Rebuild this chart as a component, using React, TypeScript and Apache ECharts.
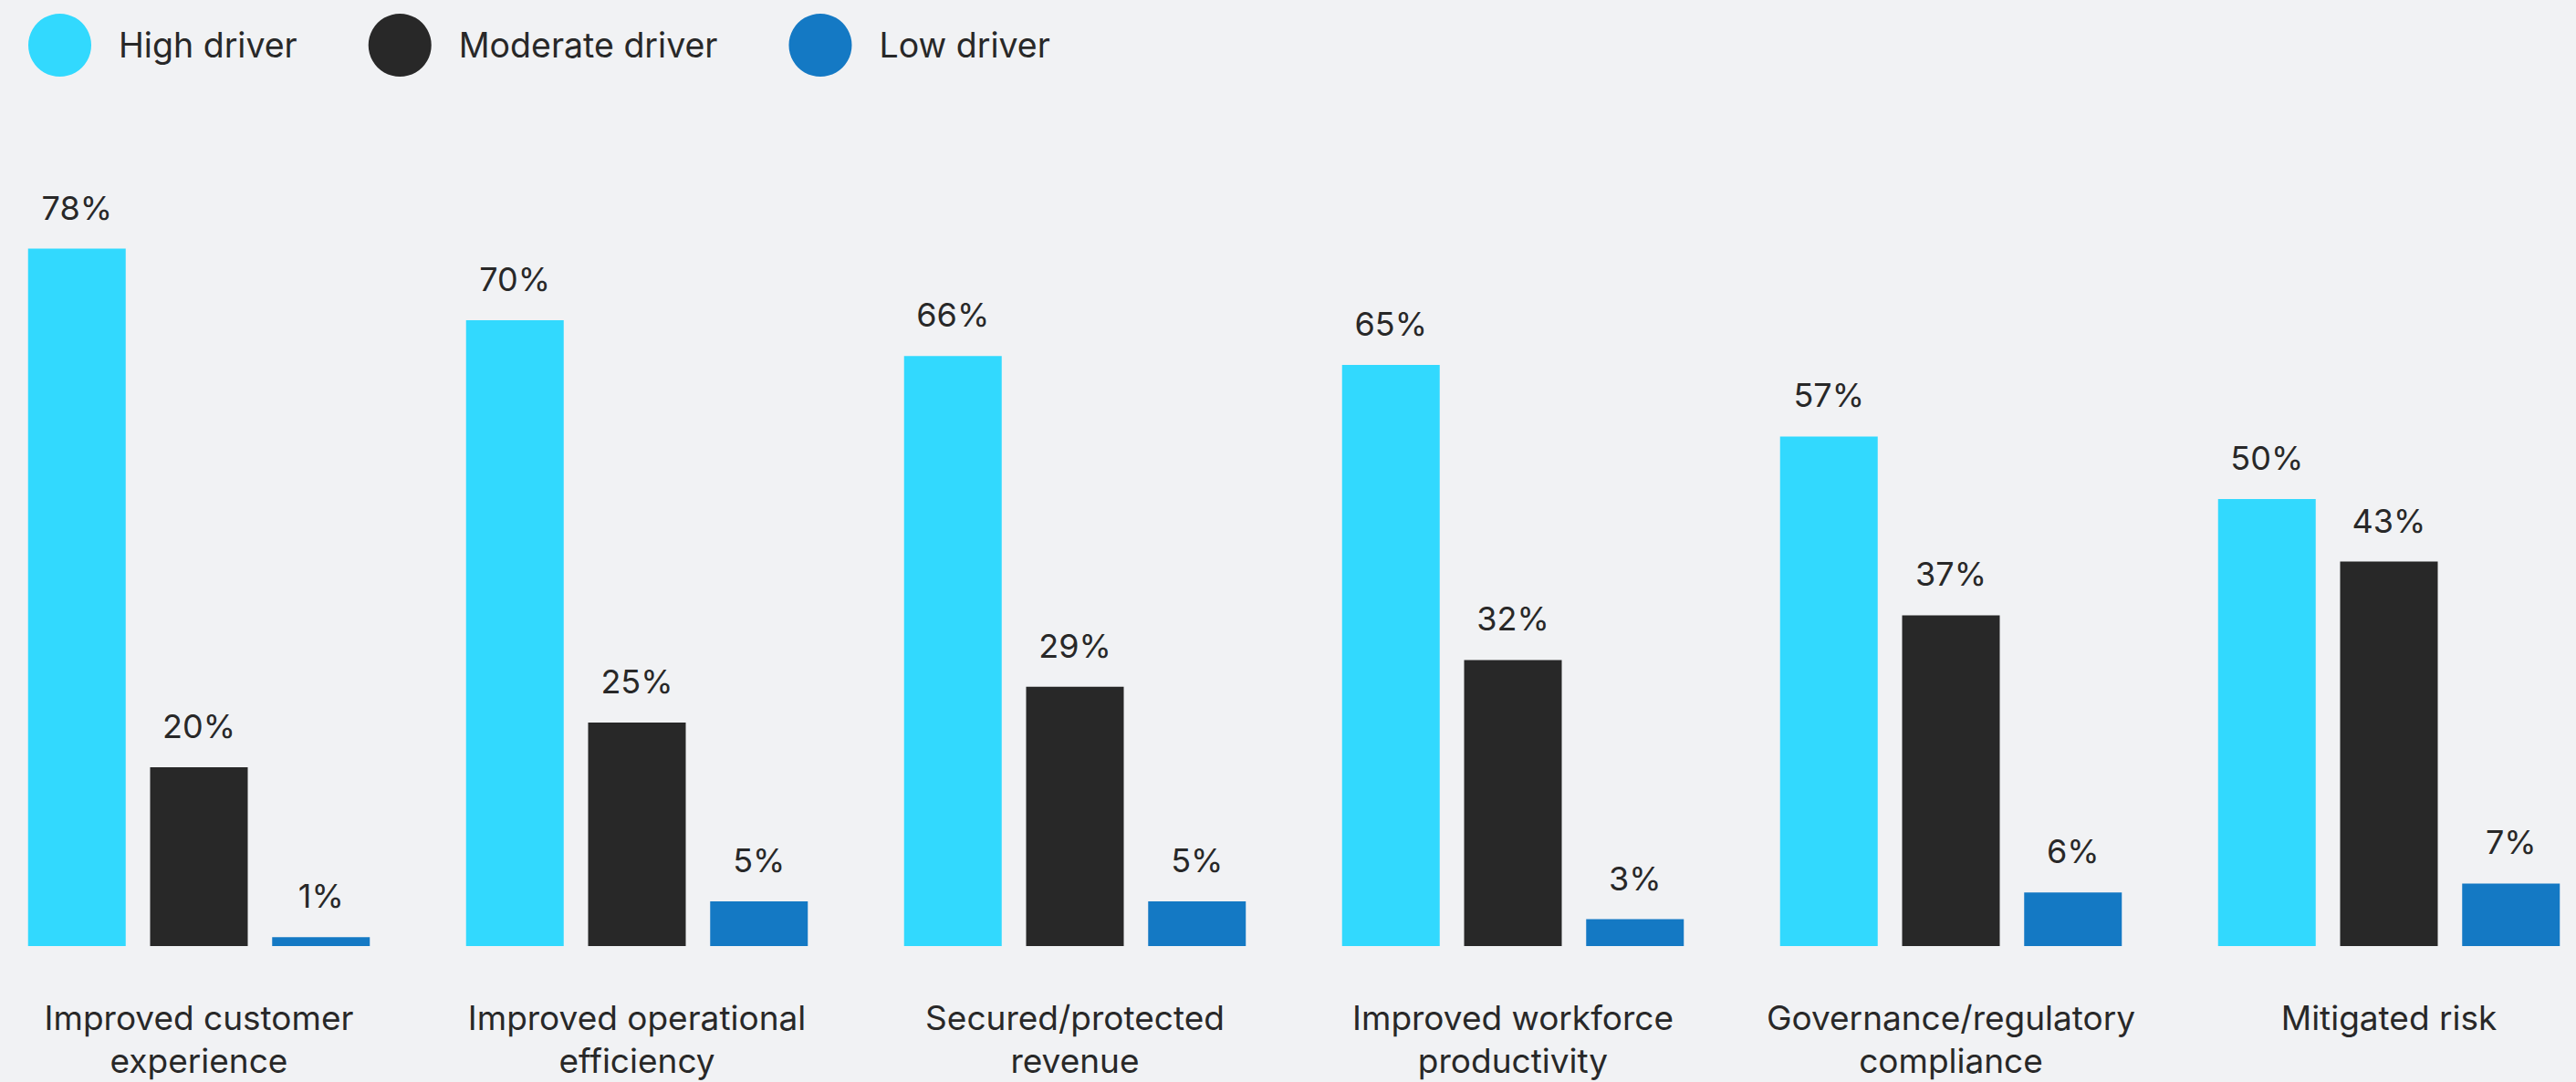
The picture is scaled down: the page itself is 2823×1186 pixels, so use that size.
import React, { useEffect, useRef } from "react";
import * as echarts from "echarts";

const categories = [
  "Improved customer\nexperience",
  "Improved operational\nefficiency",
  "Secured/protected\nrevenue",
  "Improved workforce\nproductivity",
  "Governance/regulatory\ncompliance",
  "Mitigated risk",
];
const seriesNames = ["High driver", "Moderate driver", "Low driver"];
const highDriver = [78, 70, 66, 65, 57, 50];
const moderateDriver = [20, 25, 29, 32, 37, 43];
const lowDriver = [1, 5, 5, 3, 6, 7];
const colors = ["#32D9FE", "#282828", "#1479C4"];

const TEXT = "#282828";
const FONT = "Inter";
const OFFSET_LEFT = 22;
const CHART_WIDTH = 2880;

export default function App() {
  const ref = useRef<HTMLDivElement>(null);
  useEffect(() => {
    if (!ref.current) return;
    const chart = echarts.init(ref.current, null, { renderer: "svg" });
    const data = [highDriver, moderateDriver, lowDriver];
    chart.setOption({
      animation: false,
      backgroundColor: "#F1F2F4",
      textStyle: { fontFamily: FONT },
      legend: {
        left: 31 + OFFSET_LEFT,
        top: 15,
        padding: 0,
        icon: "circle",
        itemWidth: 69,
        itemHeight: 69,
        itemGap: 78,
        textStyle: {
          fontFamily: FONT,
          fontSize: 37.5,
          color: TEXT,
          padding: [0, 0, 0, 25],
        },
        data: seriesNames,
      },
      grid: { left: 0, right: 0, top: 57, bottom: 142, containLabel: false },
      xAxis: {
        type: "category",
        data: categories,
        axisLine: { show: false },
        axisTick: { show: false },
        axisLabel: {
          interval: 0,
          margin: 55,
          fontFamily: FONT,
          fontSize: 37,
          lineHeight: 47,
          color: TEXT,
          verticalAlign: "top",
        },
      },
      yAxis: {
        type: "value",
        min: 0,
        max: 100,
        show: false,
        splitLine: { show: false },
      },
      series: seriesNames.map((name, i) => ({
        name,
        type: "bar",
        data: data[i],
        barWidth: 107,
        barGap: "25%",
        itemStyle: { color: colors[i] },
        label: {
          show: true,
          position: "top",
          distance: 27,
          formatter: "{c}%",
          fontFamily: FONT,
          fontSize: 36,
          color: TEXT,
        },
      })),
    });
    return () => chart.dispose();
  }, []);
  return (
    <div
      ref={ref}
      style={{
        position: "fixed",
        left: -OFFSET_LEFT,
        top: 0,
        width: CHART_WIDTH,
        height: 1186,
      }}
    />
  );
}
